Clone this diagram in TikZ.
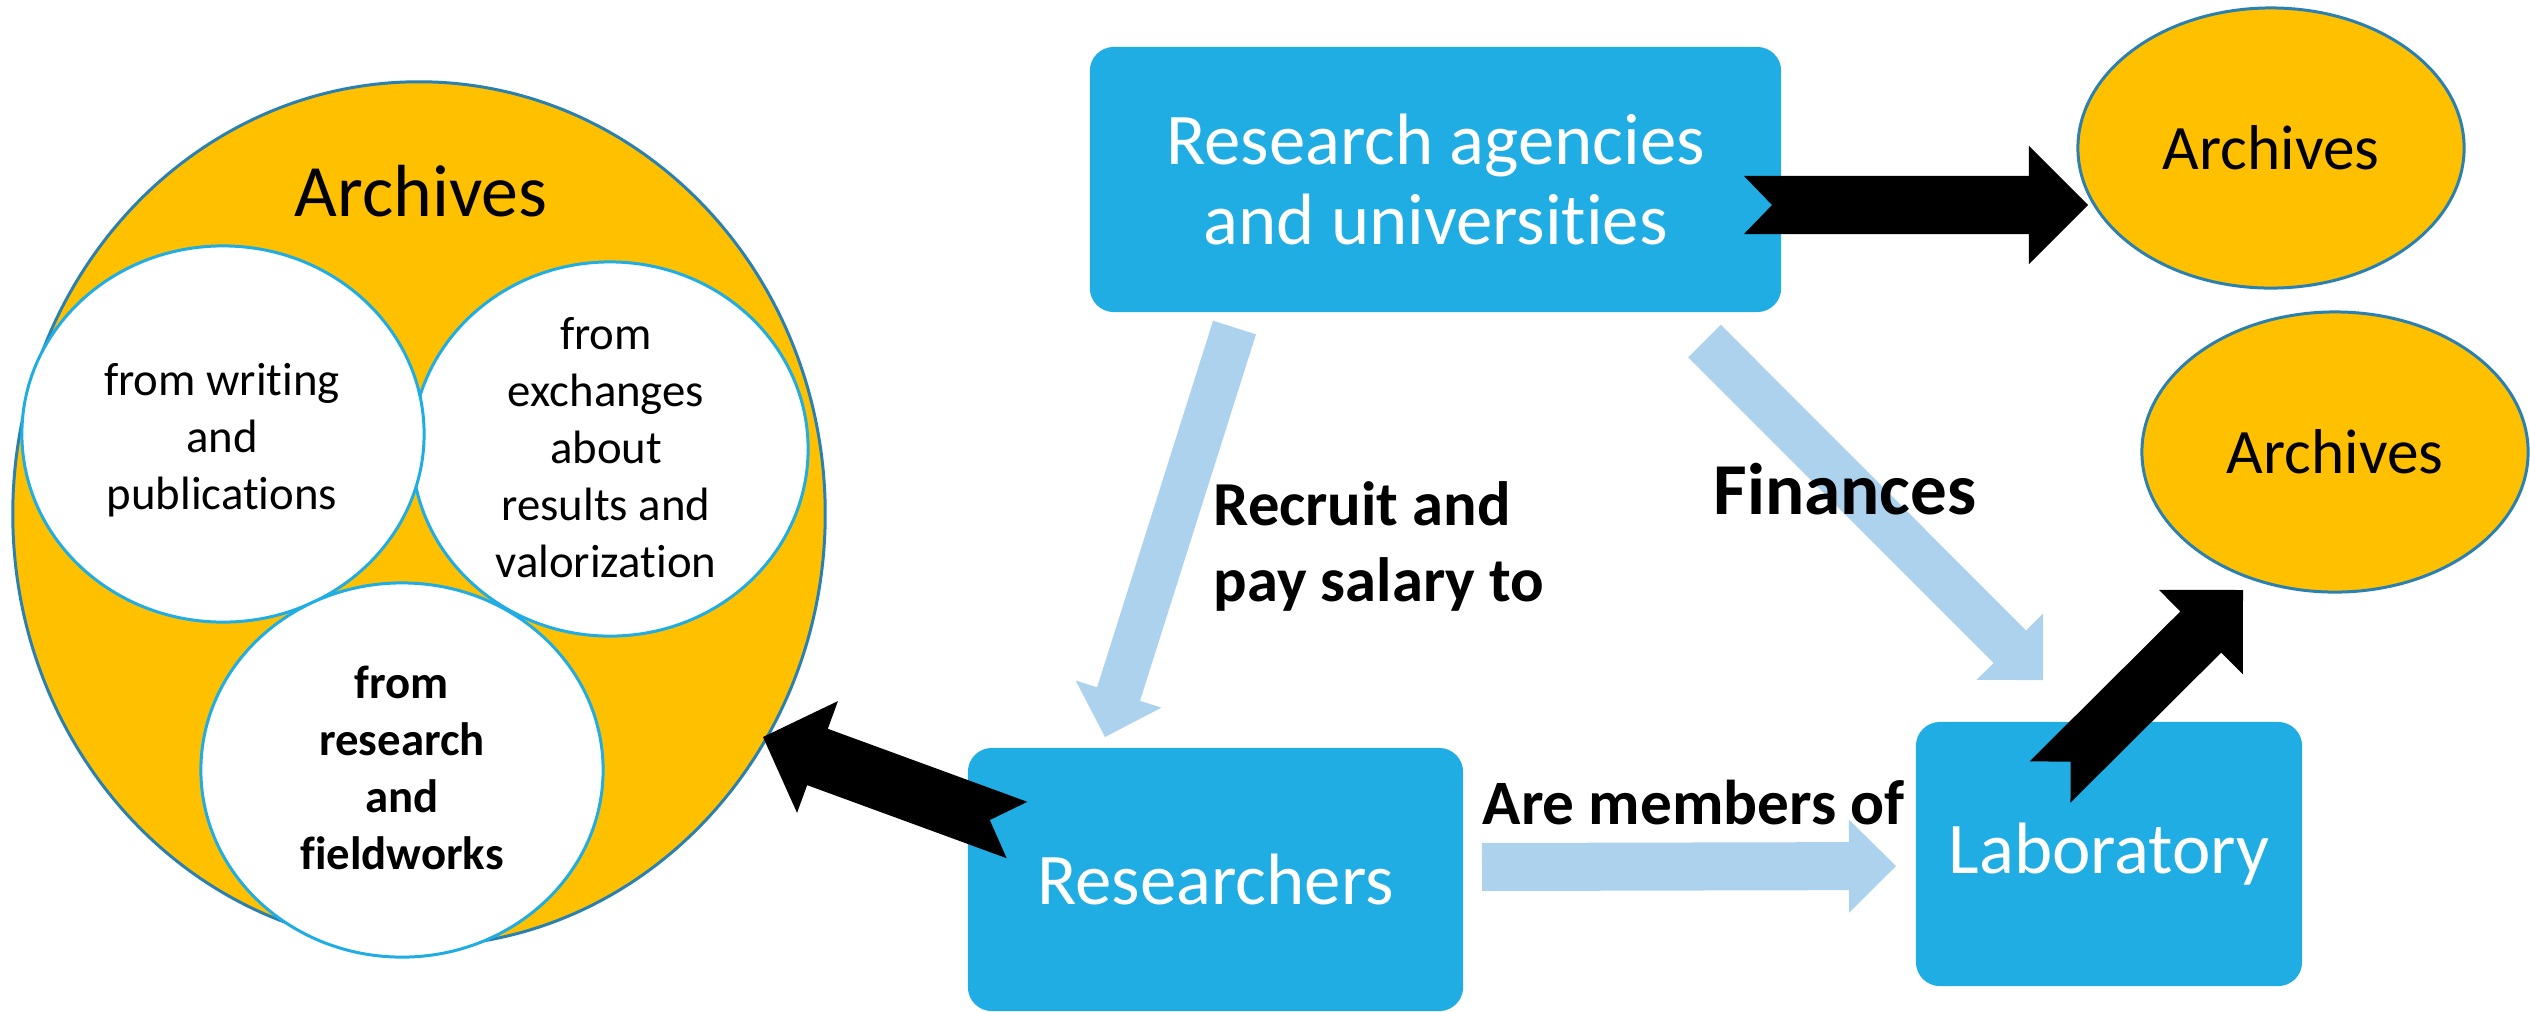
\documentclass[tikz,border=0pt]{standalone}
\usepackage{fontspec}
\setmainfont{Carlito}[Ligatures={NoCommon}]
\usetikzlibrary{shapes.geometric,calc}
\definecolor{boxblue}{HTML}{1FADE3}
\definecolor{lightarr}{HTML}{ADD2EE}
\definecolor{archorange}{HTML}{FFC000}
\definecolor{ellstroke}{HTML}{2A80B0}
% #1 style, #2 start, #3 end, #4 half shaft, #5 half head, #6 head length, #7 notch depth
\newcommand{\mkarrow}[7]{%
  \coordinate (mkh) at ($(#3)!#6!(#2)$);
  \fill[#1] ($(#2)!#4!90:(#3)$) -- ($(mkh)!#4!-90:(#2)$) -- ($(mkh)!#5!-90:(#2)$) -- (#3)
    -- ($(mkh)!#5!90:(#2)$) -- ($(mkh)!#4!90:(#2)$) -- ($(#2)!#4!-90:(#3)$)
    -- ($(#2)!#7!(#3)$) -- cycle;
}
\begin{document}
\begin{tikzpicture}[x=0.01cm,y=-0.01cm,
  box/.style={rectangle, rounded corners=0.24cm, fill=boxblue, text=white, align=center,
    inner sep=0pt, font=\fontsize{20.7}{23}\selectfont},
  arch/.style={ellipse, draw=ellstroke, line width=0.85pt, fill=archorange, inner sep=0pt,
    minimum width=3.86cm, minimum height=2.80cm, font=\fontsize{18}{21}\selectfont},
  innerc/.style={ellipse, draw=boxblue, line width=0.85pt, fill=white, inner sep=0pt},
  smalltxt/.style={align=center, inner sep=0pt, font=\fontsize{13.3}{16.2}\selectfont},
  lbl/.style={inner sep=0pt, align=left, font=\bfseries\fontsize{17.8}{21.6}\selectfont}]
\path[use as bounding box] (0,0) rectangle (2530,1011);

% big archives circle
\node[ellipse, draw=ellstroke, line width=0.85pt, fill=archorange, inner sep=0pt,
  minimum width=8.12cm, minimum height=8.64cm] (big) at (419,514) {};
\node[inner sep=0pt, anchor=base, font=\fontsize{21}{24}\selectfont] (bigtitle) at (421,216) {Archives};
\node[innerc, minimum width=3.96cm, minimum height=3.74cm] (exch) at (610,449) {};
\node[innerc, minimum width=4.02cm, minimum height=3.76cm] (writ) at (223,434) {};
\node[innerc, minimum width=4.02cm, minimum height=3.74cm] (field) at (402,770) {};
\node[smalltxt] (writt) at (222,440) {from writing\\and\\publications};
\node[smalltxt] (excht) at (606,448) {from\\exchanges\\about\\results and\\valorization};
\node[smalltxt, font=\bfseries\fontsize{13.3}{16.2}\selectfont] (fieldt) at (402,768) {from\\research\\and\\fieldworks};

% boxes
\node[box, minimum width=6.91cm, minimum height=2.65cm] (ra) at (1435.5,179.5) {Research agencies\\and universities};
\node[box, minimum width=4.95cm, minimum height=2.63cm] (res) at (1215.5,879.5) {Researchers};
\node[box, minimum width=3.86cm, minimum height=2.64cm] (lab) at (2109,854) {Laboratory};

% archive ellipses
\node[arch] (arch1) at (2271,148) {Archives};
\node[arch] (arch2) at (2335,452) {Archives};

% connector end points
\coordinate (recS) at (1234.5,327.5);
\coordinate (recT) at (1105,737);
\coordinate (finS) at (1704.5,341);
\coordinate (finT) at (2043,680);
\coordinate (memS) at (1482,867);
\coordinate (memT) at (1896,866);
\coordinate (b1S) at (1744,205);
\coordinate (b1T) at (2088,205);
\coordinate (b2S) at (1017,830);
\coordinate (b2T) at (763,737);
\coordinate (b3S) at (2050,782);
\coordinate (b3T) at (2243,590);

% light arrows
\mkarrow{lightarr}{recS}{recT}{0.225cm}{0.45cm}{0.45cm}{0cm}
\mkarrow{lightarr}{finS}{finT}{0.23cm}{0.47cm}{0.47cm}{0cm}
\mkarrow{lightarr}{memS}{memT}{0.24cm}{0.465cm}{0.47cm}{0cm}

% labels
\node[lbl, anchor=west] (recl) at (1213,546) {Recruit and\\pay salary to};
\node[lbl, anchor=base west, font=\bfseries\fontsize{20.8}{24}\selectfont] (finl) at (1713,514) {Finances};
\node[lbl, anchor=base west, font=\bfseries\fontsize{18}{21.6}\selectfont] (meml) at (1482,824) {Are members of};

% black notched arrows
\mkarrow{black}{b1S}{b1T}{0.29cm}{0.59cm}{0.59cm}{0.28cm}
\mkarrow{black}{b2S}{b2T}{0.30cm}{0.595cm}{0.58cm}{0.29cm}
\mkarrow{black}{b3S}{b3T}{0.29cm}{0.595cm}{0.595cm}{0.29cm}
\end{tikzpicture}
\end{document}
